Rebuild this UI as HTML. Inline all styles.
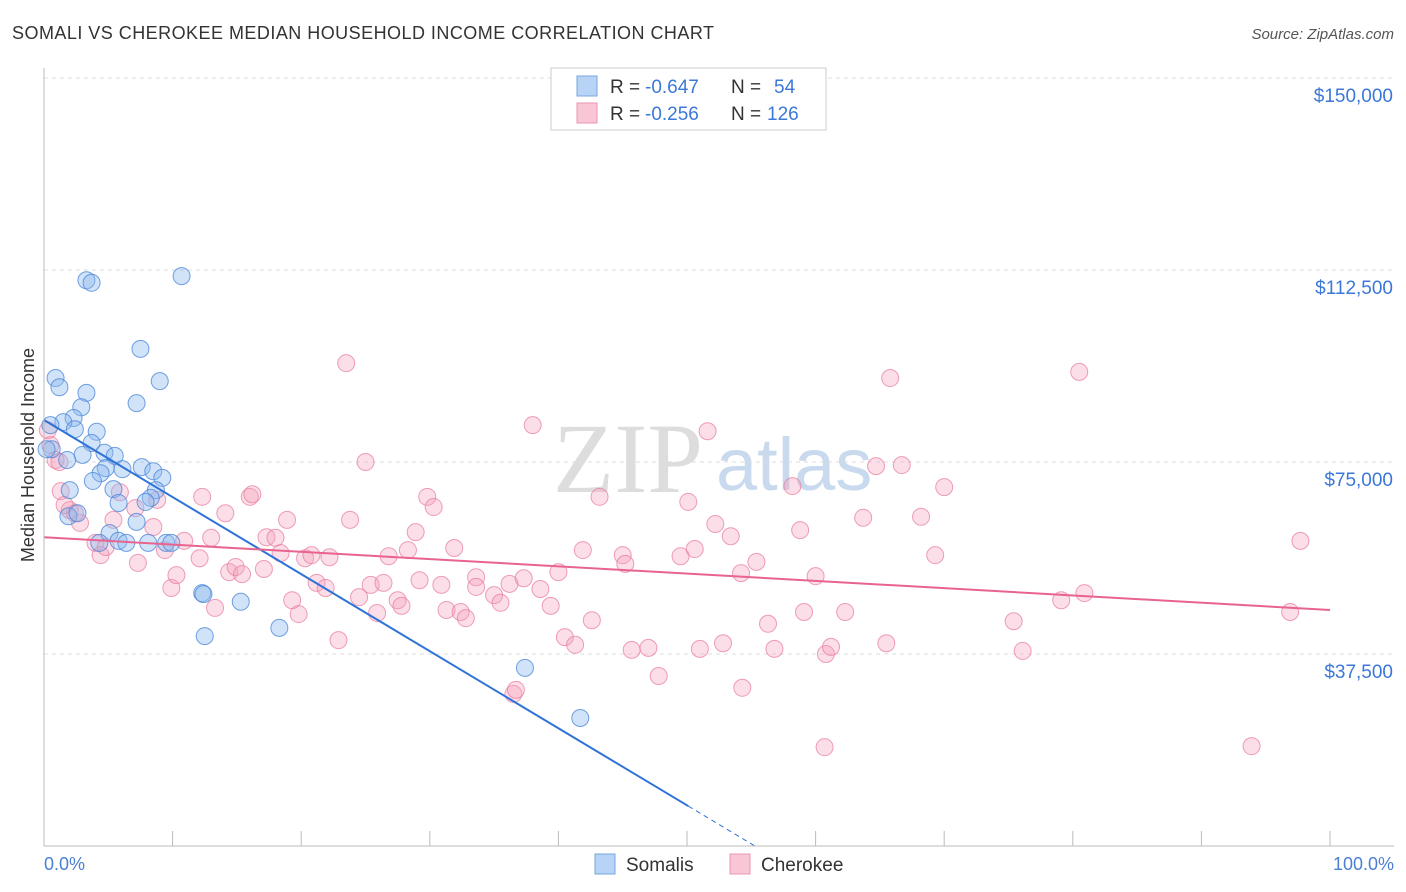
<!DOCTYPE html>
<html><head><meta charset="utf-8"><style>
body{margin:0;background:#fff;font-family:"Liberation Sans",sans-serif;}
#wrap{position:relative;width:1406px;height:892px;overflow:hidden}
</style></head><body>
<div id="wrap">
<svg id="svg" width="1406" height="892" xmlns="http://www.w3.org/2000/svg">
<text x="12" y="39" font-size="18" fill="#333" textLength="702" lengthAdjust="spacing">SOMALI VS CHEROKEE MEDIAN HOUSEHOLD INCOME CORRELATION CHART</text>
<text x="1394" y="39" font-size="15" fill="#555" font-style="italic" text-anchor="end">Source: ZipAtlas.com</text>
<text transform="translate(34,455) rotate(-90)" font-size="18" fill="#333" text-anchor="middle">Median Household Income</text>
<text x="553" y="492" font-size="100" fill="#ddd" font-family="Liberation Serif">ZIP</text>
<text x="716" y="490" font-size="74" fill="#c9d9ee">atlas</text>
<g id="grid"></g><g id="pts"></g><g id="trend"></g>
<line x1="44" y1="68" x2="44" y2="846" stroke="#bbb"/>
<line x1="44" y1="846" x2="1394" y2="846" stroke="#bbb"/>
<text x="44" y="870" font-size="18" fill="#4a7fd4">0.0%</text>
<text x="1394" y="870" font-size="18" fill="#4a7fd4" text-anchor="end">100.0%</text>
<g>
<rect x="551" y="68" width="275" height="62" fill="#fff" stroke="#ccc"/>
<rect x="577" y="76" width="20" height="20" fill="#b7d3f5" stroke="#7aa7e0"/>
<rect x="577" y="103" width="20" height="20" fill="#f8c6d4" stroke="#eb96b0"/>
<text x="610" y="93" font-size="19" fill="#333">R =</text>
<text x="645" y="93" font-size="19" fill="#3b78d8">-0.647</text>
<text x="731" y="93" font-size="19" fill="#333">N =</text>
<text x="774" y="93" font-size="19" fill="#3b78d8">54</text>
<text x="610" y="120" font-size="19" fill="#333">R =</text>
<text x="645" y="120" font-size="19" fill="#3b78d8">-0.256</text>
<text x="731" y="120" font-size="19" fill="#333">N =</text>
<text x="767" y="120" font-size="19" fill="#3b78d8">126</text>
</g>
<g>
<rect x="595" y="854" width="20" height="20" fill="#b7d3f5" stroke="#7aa7e0"/>
<text x="626" y="871" font-size="19" fill="#333">Somalis</text>
<rect x="730" y="854" width="20" height="20" fill="#f8c6d4" stroke="#eb96b0"/>
<text x="761" y="871" font-size="19" fill="#333">Cherokee</text>
</g>
</svg></div>
<script>
const yTicks=[37500,75000,112500,150000];
const yTickLabels=["$37,500","$75,000","$112,500","$150,000"];
const somaliX=[0.9,1.2,3.3,3.3,3.7,10.7,7.5,9.0,7.2,2.9,2.3,1.5,0.5,2.4,4.1,3.7,0.6,3.0,4.7,5.5,1.8,4.8,6.1,7.6,8.5,4.4,9.2,3.8,2.0,5.4,8.7,8.3,7.9,5.8,1.9,2.6,7.2,5.1,4.3,5.8,6.4,8.1,9.5,9.9,12.3,12.4,15.3,12.5,18.3,37.4,41.7,0.2];
const somaliY=[91.4,89.6,88.5,110.5,110.0,111.3,97.1,90.8,86.5,85.7,83.6,82.8,82.2,81.4,80.9,78.7,77.5,76.4,76.8,76.2,75.4,73.8,73.6,74.0,73.2,72.8,71.9,71.3,69.5,69.7,69.5,68.0,67.2,67.0,64.4,65.0,63.3,61.1,59.2,59.6,59.2,59.2,59.2,59.2,49.4,49.2,47.7,41.0,42.6,34.8,25.0,77.5];
const cherokeeX=[0.3,0.9,1.3,2.0,2.8,2.4,4.0,4.4,4.8,5.4,5.9,7.1,7.3,8.5,8.8,9.4,9.9,10.3,10.9,12.1,12.3,13.0,13.3,14.1,14.4,14.9,15.4,16.0,16.2,17.1,17.3,18.0,18.4,18.9,19.3,19.8,20.3,20.8,21.2,21.9,22.2,22.9,23.5,23.8,24.5,25.0,25.4,25.9,26.4,26.8,27.5,27.8,28.3,28.9,29.2,29.8,30.3,30.9,31.3,31.9,32.4,32.8,33.6,33.6,35.0,35.5,36.2,36.5,36.7,37.3,38.0,38.6,39.4,40.0,40.5,41.3,41.9,42.6,43.2,45.0,45.2,45.7,47.0,47.8,49.5,50.1,50.6,51.0,51.6,52.2,52.8,53.4,54.2,54.3,55.4,56.3,56.8,58.2,58.8,59.1,60.0,60.7,60.8,61.2,62.3,63.7,64.7,65.5,65.8,66.7,68.2,69.3,70.0,75.4,76.1,79.1,80.5,80.9,93.9,96.9,97.7,0.5,1.2,1.6];
const cherokeeY=[81.2,75.4,69.3,65.6,63.1,65.0,59.2,56.8,58.4,63.7,69.1,66.0,55.3,62.3,67.6,57.8,50.4,52.9,59.6,56.2,68.2,60.2,46.5,65.0,53.5,54.5,53.1,68.2,68.7,54.1,60.3,60.2,57.2,63.7,48.0,45.3,56.2,56.8,51.4,50.4,56.4,40.2,94.3,63.7,48.6,75.0,51.0,45.5,51.4,56.6,48.0,46.9,57.8,61.3,51.9,68.2,66.2,51.0,46.1,58.2,45.7,44.5,52.5,50.6,49.0,47.5,51.2,29.7,30.5,52.3,82.2,50.2,46.9,53.5,40.8,39.3,57.8,44.1,68.2,56.8,55.1,38.3,38.7,33.2,56.6,67.2,58.0,38.5,81.0,62.9,39.6,60.5,53.3,30.9,55.5,43.4,38.5,70.3,61.7,45.7,52.7,19.3,37.5,38.9,45.7,64.1,74.2,39.6,91.4,74.4,64.3,56.8,70.1,43.9,38.1,48.0,92.6,49.4,19.5,45.7,59.6,78.3,75.0,66.6];
const somaliTrend=[83.2,-67.3];
const cherokeeTrend=[60.3,46.1];
const X=p=>44+p*12.86;
const Y=v=>846-v*1000*192/37500;
const NS="http://www.w3.org/2000/svg";
function mk(t,a,parent){const e=document.createElementNS(NS,t);for(const k in a)e.setAttribute(k,a[k]);parent.appendChild(e);return e;}
const grid=document.getElementById('grid'),pts=document.getElementById('pts'),tr=document.getElementById('trend'),svg=document.getElementById('svg');
yTicks.forEach((t,i)=>{
 const l=mk('line',{x1:44,x2:1394,y1:Y(t/1000),y2:Y(t/1000),stroke:'#ddd','stroke-dasharray':'4,4'},grid);
 
 
 const tx=mk('text',{x:1393,y:Y(t/1000)+24,'font-size':19,fill:'#3b78d8','text-anchor':'end'},svg);
 tx.textContent=yTickLabels[i];
 
 
});
for(let i=1;i<=10;i++){
 const t=mk('line',{x1:X(i*10),x2:X(i*10),y1:831,y2:846,stroke:'#bbb'},grid);
 
 
}
cherokeeX.forEach((x,i)=>{
 const c=mk('circle',{cx:X(x),cy:Y(cherokeeY[i]),r:8.5,fill:'rgba(244,160,185,0.35)',stroke:'rgba(232,120,155,0.7)','stroke-width':1},pts);
 
 
});
somaliX.forEach((x,i)=>{
 const c=mk('circle',{cx:X(x),cy:Y(somaliY[i]),r:8.5,fill:'rgba(140,185,240,0.4)',stroke:'rgba(70,130,215,0.75)','stroke-width':1},pts);
 
 
});
const sv=p=>somaliTrend[0]+(somaliTrend[1]-somaliTrend[0])*p/100;
const l1=mk('line',{x1:X(0),y1:Y(sv(0)),x2:X(50.1),y2:Y(sv(50.1)),stroke:'#2f72d8','stroke-width':2},tr);


const l2=mk('line',{x1:X(50.1),y1:Y(sv(50.1)),x2:X(55.5),y2:Y(sv(55.5)),stroke:'#2f72d8','stroke-width':1,'stroke-dasharray':'5,4'},tr);


const l3=mk('line',{x1:X(0),y1:Y(cherokeeTrend[0]),x2:X(100),y2:Y(cherokeeTrend[1]),stroke:'#e8648f','stroke-width':2},tr);


</script>
</body></html>
